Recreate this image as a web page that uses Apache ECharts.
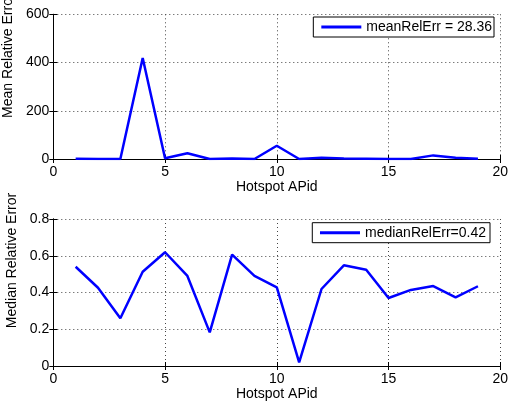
<!DOCTYPE html>
<html><head><meta charset="utf-8">
<script src="https://cdn.jsdelivr.net/npm/echarts@6/dist/echarts.min.js"></script>
<style>html,body{margin:0;padding:0;background:#fff}#c{width:508px;height:409px}</style>
</head><body><div id="c"></div>
<script>
const apIds = [1,2,3,4,5,6,7,8,9,10,11,12,13,14,15,16,17,18,19];
const meanRelErr = [1,0,0,419,3,24,0,2,0,55,0,5,2,1,0,0,15,5,1];
const medianRelErr = [0.54,0.426,0.26,0.513,0.619,0.49,0.183,0.606,0.49,0.428,0.02,0.419,0.548,0.524,0.37,0.414,0.435,0.374,0.434];
const xTicks = [0,5,10,15,20];
const meanTicks = [0,200,400,600];
const medianTicks = [0,0.2,0.4,0.6,0.8];
const meanLegend = 'meanRelErr = 28.36';
const medianLegend = 'medianRelErr=0.42';
const xName = 'Hotspot APid';
const meanName = 'Mean Relative Error';
const medianName = 'Median Relative Error';

const FONT = 'Liberation Sans, Arial, Helvetica, sans-serif';
const txt = {color:'#000', fontFamily: FONT, fontSize: 14};
const split = {show:true, lineStyle:{color:'#444', type:[1,3], width:1}};
const line = {show:true, lineStyle:{color:'#000', width:1}};
const tickIn = {show:true, inside:true, length:4, lineStyle:{color:'#000'}};

function xAx(gi, ticks) {
  return [{
    gridIndex: gi, type:'value', min: ticks[0], max: ticks[ticks.length-1], interval: ticks[1]-ticks[0],
    axisLine: line, axisTick: tickIn, splitLine: split,
    axisLabel: Object.assign({margin:6}, txt),
    name: xName, nameLocation:'middle', nameGap: 21, nameTextStyle: txt
  },{
    gridIndex: gi, type:'value', position:'top', min: ticks[0], max: ticks[ticks.length-1], interval: ticks[1]-ticks[0],
    axisLine: line, axisTick: tickIn, splitLine:{show:false}, axisLabel:{show:false}
  }];
}
function yAx(gi, ticks, name, pad, gap) {
  return [{
    gridIndex: gi, type:'value', min: ticks[0], max: ticks[ticks.length-1], interval: ticks[1]-ticks[0],
    axisLine: line, axisTick: tickIn, splitLine: split,
    axisLabel: Object.assign({margin:4}, txt),
    name: name, nameLocation:'middle', nameGap: gap,
    nameTextStyle: Object.assign({padding:[0,0,0,pad]}, txt)
  },{
    gridIndex: gi, type:'value', position:'right', min: ticks[0], max: ticks[ticks.length-1], interval: ticks[1]-ticks[0],
    axisLine: line, axisTick: tickIn, splitLine:{show:false}, axisLabel:{show:false}
  }];
}

const chart = echarts.init(document.getElementById('c'), null, {renderer:'canvas'});
chart.setOption({
  animation:false,
  backgroundColor:'#fff',
  grid:[
    {left:53.3, right:7.7, top:14.3, height:144.7, containLabel:false, outerBoundsMode:'none'},
    {left:53.3, right:7.7, top:219, height:147, containLabel:false, outerBoundsMode:'none'}
  ],
  xAxis: [...xAx(0, xTicks), ...xAx(1, xTicks)],
  yAxis: [...yAx(0, meanTicks, meanName, 62, 34), ...yAx(1, medianTicks, medianName, 64, 30)],
  legend:[
    {data:[{name:meanLegend, icon:'rect'}], right:14, top:17, orient:'vertical', itemWidth:40, itemHeight:3, itemGap:5,
     padding:[3,2,3,8], borderColor:'#000', borderWidth:1, backgroundColor:'#fff', textStyle:txt, borderRadius:0},
    {data:[{name:medianLegend, icon:'rect'}], right:18, top:222.7, orient:'vertical', itemWidth:40, itemHeight:3, itemGap:5,
     padding:[3,4,3,7.7], borderColor:'#000', borderWidth:1, backgroundColor:'#fff', textStyle:txt, borderRadius:0}
  ],
  series:[
    {name: meanLegend, type:'line', xAxisIndex:0, yAxisIndex:0, symbol:'none',
     lineStyle:{color:'#0000ff', width:2.5}, itemStyle:{color:'#0000ff'},
     data: apIds.map((x,i)=>[x, meanRelErr[i]])},
    {name: medianLegend, type:'line', xAxisIndex:2, yAxisIndex:2, symbol:'none',
     lineStyle:{color:'#0000ff', width:2.5}, itemStyle:{color:'#0000ff'},
     data: apIds.map((x,i)=>[x, medianRelErr[i]])}
  ]
});
</script></body></html>
